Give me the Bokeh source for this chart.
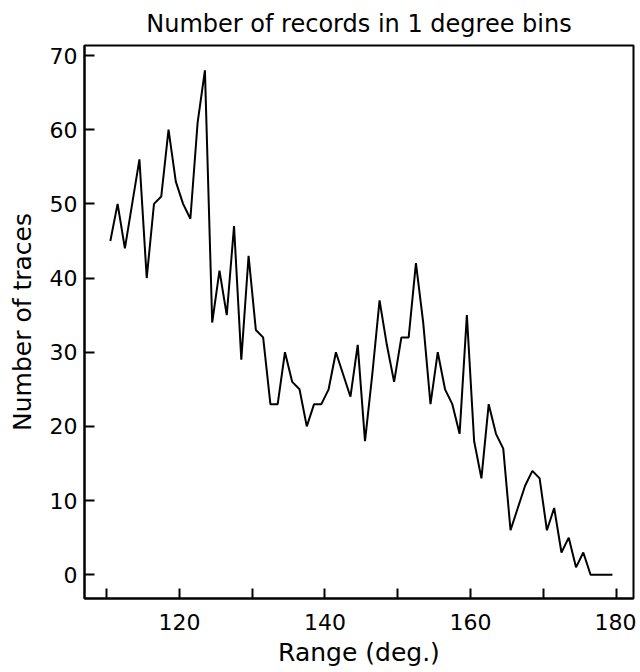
from bokeh.plotting import figure
from bokeh.models import Range1d, FixedTicker
from bokeh.embed import file_html
from bokeh.resources import INLINE

# 1-degree bins (lower edges, degrees) and number of records per bin
bin_lower = list(range(110, 180))
counts = [45, 50, 44, 50, 56, 40, 50, 51, 60, 53,
          50, 48, 61, 68, 34, 41, 35, 47, 29, 43,
          33, 32, 23, 23, 30, 26, 25, 20, 23, 23,
          25, 30, 27, 24, 31, 18, 27, 37, 31, 26,
          32, 32, 42, 34, 23, 30, 25, 23, 19, 35,
          18, 13, 23, 19, 17, 6, 9, 12, 14, 13,
          6, 9, 3, 5, 1, 3, 0, 0, 0, 0]
bin_centers = [b + 0.5 for b in bin_lower]

x_ticks = [110, 120, 130, 140, 150, 160, 170, 180]
x_labels = {110: "", 120: "120", 130: "", 140: "140", 150: "", 160: "160", 170: "", 180: "180"}
y_ticks = [0, 10, 20, 30, 40, 50, 60, 70]

FONT = "DejaVu Sans"

p = figure(width=636, height=670, output_backend="svg", toolbar_location=None,
           x_range=Range1d(106.95, 182.4), y_range=Range1d(-3.2, 71.35),
           min_border_left=84, min_border_right=3, min_border_top=45, min_border_bottom=72)

p.line(bin_centers, counts, line_color="black", line_width=2)

p.title.text = "Number of records in 1 degree bins"
p.title.align = "center"
p.title.text_font = FONT
p.title.text_font_size = "24px"
p.title.text_font_style = "normal"
p.title.text_color = "black"
p.title.standoff = 15

p.grid.visible = False
p.background_fill_color = "white"
p.border_fill_color = "white"
p.outline_line_color = "black"
p.outline_line_width = 2
p.outline_line_alpha = 1

for ax in (p.xaxis[0], p.yaxis[0]):
    ax.axis_line_color = "black"
    ax.axis_line_width = 2
    ax.major_tick_in = 10
    ax.major_tick_out = 0
    ax.major_tick_line_width = 2
    ax.major_tick_line_color = "black"
    ax.minor_tick_line_color = None
    ax.major_label_text_font = FONT
    ax.major_label_text_font_size = "22px"
    ax.major_label_text_color = "black"
    ax.axis_label_text_font = FONT
    ax.axis_label_text_font_size = "25px"
    ax.axis_label_text_font_style = "normal"
    ax.axis_label_text_color = "black"

p.xaxis[0].ticker = FixedTicker(ticks=x_ticks)
p.xaxis[0].major_label_overrides = x_labels
p.xaxis[0].axis_label = "Range (deg.)"
p.xaxis[0].major_label_standoff = 15
p.xaxis[0].axis_label_standoff = 5

p.yaxis[0].ticker = FixedTicker(ticks=y_ticks)
p.yaxis[0].axis_label = "Number of traces"
p.yaxis[0].major_label_standoff = 7
p.yaxis[0].axis_label_standoff = 10

open("out.html", "w").write(file_html(p, INLINE))
